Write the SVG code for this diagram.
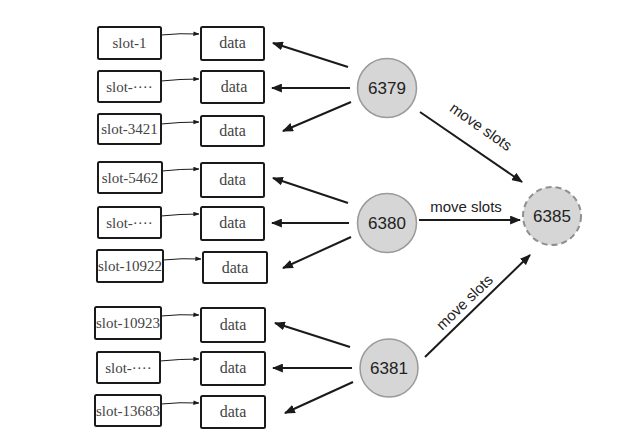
<svg xmlns="http://www.w3.org/2000/svg" width="624" height="442" viewBox="0 0 624 442">
<defs>
<marker id="big" viewBox="0 0 10 8" refX="9" refY="4" markerWidth="11" markerHeight="9" markerUnits="userSpaceOnUse" orient="auto">
<path d="M0,0 L10,4 L0,8 Z" fill="#1a1a1a"/>
</marker>
<marker id="small" viewBox="0 0 8 6" refX="7.5" refY="3" markerWidth="6" markerHeight="5" markerUnits="userSpaceOnUse" orient="auto">
<path d="M0,0 L8,3 L0,6 Z" fill="#1a1a1a"/>
</marker>
<style>
.box{fill:#fff;stroke:#1a1a1a;stroke-width:2}
.bt{font-family:"Liberation Serif",serif;font-size:15px;fill:#444;text-anchor:middle}
.dt{font-family:"Liberation Serif",serif;font-size:16px;fill:#444;text-anchor:middle}
.node{fill:#d6d6d6;stroke:#9a9a9a;stroke-width:1.5}
.dash{fill:#d6d6d6;stroke:#8f8f8f;stroke-width:2;stroke-dasharray:6 4}
.nt{font-family:"Liberation Sans",Arial,sans-serif;font-size:17px;fill:#222;text-anchor:middle}
.ln{stroke:#1a1a1a;stroke-width:2;fill:none;marker-end:url(#big)}
.sl{stroke:#1a1a1a;stroke-width:1;fill:none;marker-end:url(#small)}
.lb{font-family:"Liberation Sans",Arial,sans-serif;font-size:15px;fill:#222;text-anchor:middle}
</style>
</defs>
<g id="slots">
<g id="s1"><rect class="box" x="98" y="27" width="63" height="32" rx="1.5"/><text class="bt" x="129.5" y="48">slot-1</text></g>
<g id="d1"><rect class="box" x="201" y="27" width="63" height="33" rx="1.5"/><text class="dt" x="232.5" y="48">data</text></g>
<g id="s2"><rect class="box" x="98" y="71" width="63" height="31" rx="1.5"/><text class="bt" x="129.5" y="92">slot-····</text></g>
<g id="d2"><rect class="box" x="201" y="71" width="63" height="32" rx="1.5"/><text class="dt" x="234" y="92">data</text></g>
<g id="s3"><rect class="box" x="98" y="114" width="63" height="30" rx="1.5"/><text class="bt" x="129.5" y="134">slot-3421</text></g>
<g id="d3"><rect class="box" x="201" y="116" width="63" height="30" rx="1.5"/><text class="dt" x="232.5" y="136">data</text></g>

<g id="s4"><rect class="box" x="98" y="162" width="64" height="31" rx="1.5"/><text class="bt" x="130" y="183">slot-5462</text></g>
<g id="d4"><rect class="box" x="201" y="163" width="63" height="34" rx="1.5"/><text class="dt" x="232.5" y="185">data</text></g>
<g id="s5"><rect class="box" x="98" y="207" width="63" height="31" rx="1.5"/><text class="bt" x="129.5" y="228">slot-····</text></g>
<g id="d5"><rect class="box" x="201" y="207" width="63" height="33" rx="1.5"/><text class="dt" x="232.5" y="228">data</text></g>
<g id="s6"><rect class="box" x="97" y="250" width="66" height="32" rx="1.5"/><text class="bt" x="130" y="271">slot-10922</text></g>
<g id="d6"><rect class="box" x="203" y="252" width="64" height="31" rx="1.5"/><text class="dt" x="235" y="273">data</text></g>

<g id="s7"><rect class="box" x="95" y="307" width="66" height="32" rx="1.5"/><text class="bt" x="128" y="328">slot-10923</text></g>
<g id="d7"><rect class="box" x="201" y="308" width="64" height="34" rx="1.5"/><text class="dt" x="233" y="330">data</text></g>
<g id="s8"><rect class="box" x="97" y="352" width="63" height="31" rx="1.5"/><text class="bt" x="128.5" y="373">slot-····</text></g>
<g id="d8"><rect class="box" x="201" y="352" width="64" height="33" rx="1.5"/><text class="dt" x="233" y="373">data</text></g>
<g id="s9"><rect class="box" x="95" y="395" width="66" height="31" rx="1.5"/><text class="bt" x="128" y="416">slot-13683</text></g>
<g id="d9"><rect class="box" x="201" y="396" width="64" height="32" rx="1.5"/><text class="dt" x="233" y="417">data</text></g>
</g>

<g id="n6379"><circle class="node" cx="387" cy="88" r="29.5"/><text class="nt" x="387" y="94">6379</text></g>
<g id="n6380"><circle class="node" cx="387" cy="223" r="29.5"/><text class="nt" x="387" y="229">6380</text></g>
<g id="n6381"><circle class="node" cx="389" cy="368" r="29"/><text class="nt" x="389" y="374">6381</text></g>
<g id="n6385"><circle class="dash" cx="552" cy="216" r="29"/><text class="nt" x="552" y="222">6385</text></g>

<g id="connectors">
<path class="sl" d="M161,35 Q180,33 199,34"/>
<path class="sl" d="M161,81 Q180,79 199,79"/>
<path class="sl" d="M161,124 Q180,122 199,122"/>
<path class="sl" d="M162,171 Q180,169 199,169"/>
<path class="sl" d="M161,216 Q180,214 199,214"/>
<path class="sl" d="M163,260 Q182,258 201,259"/>
<path class="sl" d="M161,316 Q180,314 199,315"/>
<path class="sl" d="M160,361 Q180,359 199,359"/>
<path class="sl" d="M161,404 Q180,402 199,403"/>

<line class="ln" x1="348" y1="67" x2="273" y2="43"/>
<line class="ln" x1="350" y1="88" x2="272" y2="88"/>
<line class="ln" x1="351" y1="102" x2="283" y2="131"/>
<line class="ln" x1="348" y1="203" x2="273" y2="178"/>
<line class="ln" x1="349" y1="223" x2="272" y2="223"/>
<line class="ln" x1="351" y1="237" x2="283" y2="268"/>
<line class="ln" x1="350" y1="347" x2="275" y2="323"/>
<line class="ln" x1="352" y1="368" x2="273" y2="368"/>
<line class="ln" x1="353" y1="382" x2="285" y2="413"/>

<line class="ln" x1="420" y1="112" x2="522" y2="182"/>
<line class="ln" x1="419" y1="220" x2="520" y2="220"/>
<line class="ln" x1="425" y1="357" x2="530" y2="255"/>
<text class="lb" transform="translate(478,131) rotate(35)">move slots</text>
<text class="lb" x="466" y="212">move slots</text>
<text class="lb" transform="translate(468,306) rotate(-44)">move slots</text>
</g>
</svg>
